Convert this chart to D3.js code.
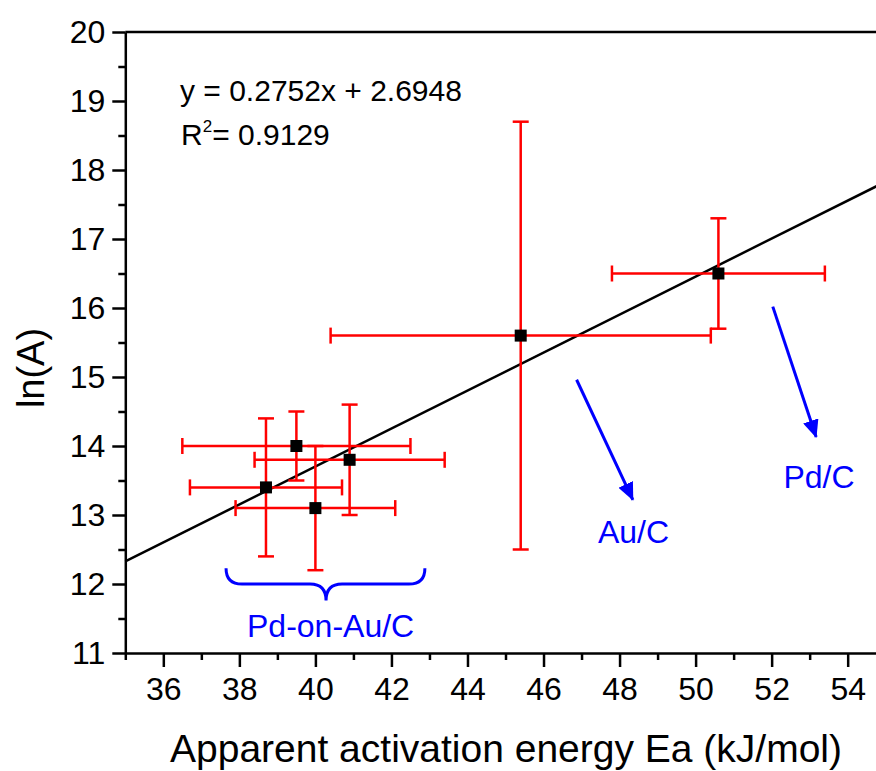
<!DOCTYPE html>
<html>
<head>
<meta charset="utf-8">
<script src="https://cdn.jsdelivr.net/npm/d3@7"></script>
<style>
  html, body { margin: 0; padding: 0; background: #fff; }
  svg { display: block; font-family: "Liberation Sans", Arial, sans-serif; }
</style>
</head>
<body>
<div id="chart"></div>
<script>
// data
const ea = [38.7, 39.5, 40.0, 40.9, 45.4, 50.6];        // kJ/mol
const lnA = [13.4, 14.0, 13.1, 13.8, 15.6, 16.5];
const eaErr = [2.0, 3.0, 2.1, 2.5, 5.0, 2.8];
const lnAErr = [1.0, 0.5, 0.9, 0.8, 3.1, 0.8];
const fitSlope = 0.2752;
const fitIntercept = 2.6948;
const xTicks = [36, 38, 40, 42, 44, 46, 48, 50, 52, 54];
const yTicks = [11, 12, 13, 14, 15, 16, 17, 18, 19, 20];

const width = 876, height = 771;
const plotLeft = 125.3, plotTop = 32, plotBottom = 653;

const svg = d3.select("#chart").append("svg")
    .attr("width", width)
    .attr("height", height);

const x = d3.scaleLinear().domain([35, 55]).range([plotLeft, plotLeft + 20 * 38.02]);
const y = d3.scaleLinear().domain([11, 20]).range([plotBottom, plotTop]);

// arrow head
svg.append("defs").append("marker")
    .attr("id", "head")
    .attr("markerUnits", "userSpaceOnUse")
    .attr("viewBox", "0 0 18 16")
    .attr("refX", 17).attr("refY", 8)
    .attr("markerWidth", 18).attr("markerHeight", 16)
    .attr("orient", "auto")
  .append("path")
    .attr("d", "M0,0 L18,8 L0,16 Z")
    .attr("fill", "#0000ff");

// axes
const styleAxis = g => {
    g.selectAll("path, line").attr("stroke", "#000").attr("stroke-width", 2.5);
    g.selectAll("text").attr("fill", "#000").style("font-size", "32px")
        .style("font-family", "'Liberation Sans', Arial, sans-serif");
};

svg.append("g")
    .attr("transform", `translate(0,${plotBottom})`)
    .call(d3.axisBottom(x).tickValues(d3.range(35, 55, 1).filter(v => v % 2 === 1))
        .tickSize(7).tickSizeOuter(0).tickFormat(""))
    .call(styleAxis)
    .call(g => g.select(".domain").remove());

svg.append("g")
    .attr("transform", `translate(0,${plotBottom})`)
    .call(d3.axisBottom(x).tickValues(xTicks).tickSize(14).tickPadding(10).tickSizeOuter(0))
    .call(styleAxis);

svg.append("g")
    .attr("transform", `translate(${plotLeft},0)`)
    .call(d3.axisLeft(y).tickValues(d3.range(11.5, 20, 1)).tickSize(7).tickSizeOuter(0).tickFormat(""))
    .call(styleAxis)
    .call(g => g.select(".domain").remove());

svg.append("g")
    .attr("transform", `translate(${plotLeft},0)`)
    .call(d3.axisLeft(y).tickValues(yTicks).tickSize(13).tickPadding(7).tickSizeOuter(0))
    .call(styleAxis);

// top frame line
svg.append("line")
    .attr("x1", plotLeft).attr("x2", width)
    .attr("y1", plotTop).attr("y2", plotTop)
    .attr("stroke", "#000").attr("stroke-width", 2.5);

// fit line
svg.append("line")
    .attr("x1", x(35)).attr("y1", y(fitSlope * 35 + fitIntercept))
    .attr("x2", x(55)).attr("y2", y(fitSlope * 55 + fitIntercept))
    .attr("stroke", "#000").attr("stroke-width", 2.5);

// error bars
const pts = ea.map((v, i) => ({ x: v, y: lnA[i], ex: eaErr[i], ey: lnAErr[i] }));
const err = svg.append("g").attr("stroke", "#ff0000").attr("stroke-width", 2.5);
const cap = 8;
pts.forEach(d => {
    err.append("line")
        .attr("x1", x(d.x - d.ex)).attr("x2", x(d.x + d.ex))
        .attr("y1", y(d.y)).attr("y2", y(d.y));
    err.append("line")
        .attr("x1", x(d.x)).attr("x2", x(d.x))
        .attr("y1", y(d.y - d.ey)).attr("y2", y(d.y + d.ey));
    [d.x - d.ex, d.x + d.ex].forEach(v => err.append("line")
        .attr("x1", x(v)).attr("x2", x(v))
        .attr("y1", y(d.y) - cap).attr("y2", y(d.y) + cap));
    [d.y - d.ey, d.y + d.ey].forEach(v => err.append("line")
        .attr("x1", x(d.x) - cap).attr("x2", x(d.x) + cap)
        .attr("y1", y(v)).attr("y2", y(v)));
});

// markers
svg.selectAll("rect.pt")
    .data(pts)
    .enter()
    .append("rect")
    .attr("class", "pt")
    .attr("x", d => x(d.x) - 6)
    .attr("y", d => y(d.y) - 6)
    .attr("width", 12).attr("height", 12)
    .attr("fill", "#000");

// equation
svg.append("text")
    .attr("x", 180).attr("y", 101)
    .style("font-size", "30px")
    .text(`y = ${fitSlope}x + ${fitIntercept}`);
const r2 = svg.append("text")
    .attr("x", 181).attr("y", 145)
    .style("font-size", "30px");
r2.append("tspan").text("R");
r2.append("tspan").attr("dy", -13).style("font-size", "17px").text("2");
r2.append("tspan").attr("dy", 13).text("= 0.9129");

// annotations (data units)
const blue = "#0000ff";
const arrows = [
    { from: [46.87, 14.96], to: [48.35, 13.22] },
    { from: [52.03, 16.02], to: [53.17, 14.13] }
];
arrows.forEach(a => svg.append("line")
    .attr("x1", x(a.from[0])).attr("y1", y(a.from[1]))
    .attr("x2", x(a.to[0])).attr("y2", y(a.to[1]))
    .attr("stroke", blue).attr("stroke-width", 3)
    .attr("marker-end", "url(#head)"));

svg.append("text")
    .attr("x", x(47.43)).attr("y", y(12.59))
    .attr("fill", blue).style("font-size", "32px")
    .text("Au/C");
svg.append("text")
    .attr("x", x(52.31)).attr("y", y(13.39))
    .attr("fill", blue).style("font-size", "32px")
    .text("Pd/C");

// brace under the Pd-on-Au/C group
const bx0 = x(37.65), bx1 = x(42.88), bxc = x(40.28);
const byTop = y(12.23), byMid = y(12.0), byCusp = y(11.76);
const r = 16;
const brace = d3.path();
brace.moveTo(bx0, byTop);
brace.quadraticCurveTo(bx0, byMid, bx0 + r, byMid);
brace.lineTo(bxc - r, byMid);
brace.quadraticCurveTo(bxc, byMid, bxc, byCusp);
brace.quadraticCurveTo(bxc, byMid, bxc + r, byMid);
brace.lineTo(bx1 - r, byMid);
brace.quadraticCurveTo(bx1, byMid, bx1, byTop);
svg.append("path")
    .attr("d", brace.toString())
    .attr("fill", "none")
    .attr("stroke", blue).attr("stroke-width", 3);

svg.append("text")
    .attr("x", x(40.40)).attr("y", y(11.23))
    .attr("text-anchor", "middle")
    .attr("fill", blue).style("font-size", "32px")
    .text("Pd-on-Au/C");

// axis titles
svg.append("text")
    .attr("x", 506).attr("y", 762)
    .attr("text-anchor", "middle")
    .style("font-size", "39px")
    .text("Apparent activation energy Ea (kJ/mol)");
svg.append("text")
    .attr("transform", "translate(44,368) rotate(-90)")
    .attr("text-anchor", "middle")
    .style("font-size", "38px")
    .text("ln(A)");
</script>
</body>
</html>
